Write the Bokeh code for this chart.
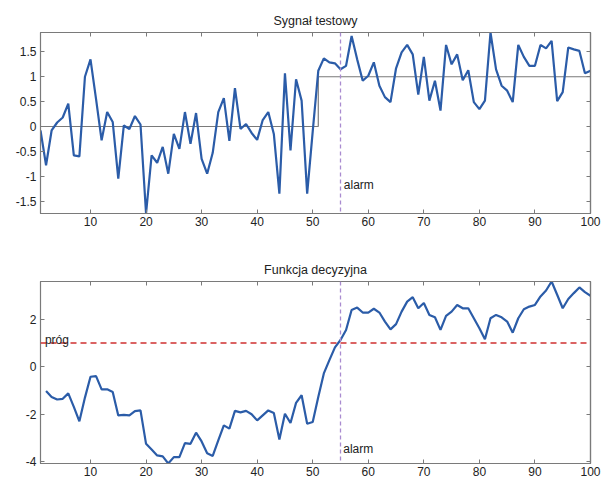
from bokeh.plotting import figure
from bokeh.layouts import column
from bokeh.models import (Range1d, FixedTicker, CustomJSTickFormatter, LinearAxis,
                          Span, Label)
from bokeh.embed import file_html
from bokeh.resources import INLINE

# ---- data ----
x_signal = list(range(1, 101))
signal = [-0.08, -0.78, -0.08, 0.08, 0.18, 0.46, -0.58, -0.60, 1.00, 1.35,
          0.55, -0.28, 0.29, 0.09, -1.05, 0.02, -0.05, 0.21, 0.04, -1.75,
          -0.58, -0.73, -0.41, -0.95, -0.15, -0.45, 0.29, -0.35, 0.27, -0.65,
          -0.95, -0.53, 0.29, 0.57, -0.29, 0.77, -0.05, 0.05, -0.13, -0.27,
          0.13, 0.29, -0.15, -1.35, 1.07, -0.48, 0.95, 0.52, -1.35, -0.10,
          1.12, 1.37, 1.29, 1.27, 1.15, 1.22, 1.82, 1.35, 0.92, 1.02,
          1.29, 0.82, 0.59, 0.49, 1.17, 1.49, 1.64, 1.45, 0.64, 1.40,
          0.52, 0.92, 0.32, 1.64, 1.25, 1.45, 0.93, 1.13, 0.49, 0.35,
          0.52, 1.89, 1.15, 0.82, 0.72, 0.49, 1.64, 1.40, 1.22, 1.22,
          1.64, 1.57, 1.72, 0.51, 0.69, 1.59, 1.55, 1.52, 1.07, 1.12]
mean_level = [0] * 50 + [1] * 50

x_decision = list(range(2, 101))
decision = [-1.02, -1.27, -1.38, -1.35, -1.12, -1.69, -2.30, -1.30, -0.42,
            -0.39, -0.95, -0.95, -1.06, -2.05, -2.03, -2.05, -1.87, -1.84, -3.25,
            -3.49, -3.74, -3.78, -4.08, -3.81, -3.81, -3.22, -3.25, -2.78, -3.15,
            -3.65, -3.76, -3.10, -2.47, -2.61, -1.86, -1.92, -1.86, -2.00, -2.26,
            -2.05, -1.84, -1.95, -3.07, -1.98, -2.37, -1.52, -1.20, -2.40, -2.33,
            -1.27, -0.28, 0.28, 0.82, 1.13, 1.55, 2.40, 2.50, 2.29, 2.29,
            2.45, 2.29, 1.91, 1.58, 1.80, 2.33, 2.75, 2.94, 2.47, 2.69,
            2.19, 2.09, 1.56, 2.15, 2.33, 2.61, 2.47, 2.47, 2.05, 1.63,
            1.16, 2.05, 2.19, 2.09, 1.91, 1.44, 2.05, 2.43, 2.54, 2.61,
            2.97, 3.22, 3.60, 3.04, 2.47, 2.86, 3.11, 3.35, 3.15, 3.00]

threshold = 1.0
alarm_index = 55
x_ticks = [10, 20, 30, 40, 50, 60, 70, 80, 90, 100]
y_ticks_top = [-1.5, -1, -0.5, 0, 0.5, 1, 1.5]
y_ticks_bottom = [-4, -2, 0, 2]

FONT = "Liberation Sans"
BLUE = "#2b5ca8"
GRAY = "#7a7a7a"
RED = "#d03030"
VIOLET = "#a98bd0"

fmt = CustomJSTickFormatter(code="return tick.toString();")
empty_fmt = CustomJSTickFormatter(code="return '';")


def style(p, yticks):
    p.title.align = "center"
    p.title.text_font = FONT
    p.title.text_font_size = "12.5px"
    p.title.text_font_style = "normal"
    p.title.text_color = "#222222"
    p.grid.visible = False
    p.outline_line_color = GRAY
    p.outline_line_width = 1.2
    p.background_fill_color = "white"
    p.border_fill_color = "white"
    for ax in p.xaxis + p.yaxis:
        ax.axis_line_color = GRAY
        ax.major_tick_line_color = GRAY
        ax.minor_tick_line_color = None
        ax.major_tick_in = 4
        ax.major_tick_out = 0
        ax.major_label_text_font = FONT
        ax.major_label_text_font_size = "12px"
        ax.major_label_text_color = "#222222"
        ax.formatter = fmt
    p.xaxis.ticker = FixedTicker(ticks=x_ticks)
    p.yaxis.ticker = FixedTicker(ticks=yticks)
    p.xaxis.major_label_standoff = 3
    p.yaxis.major_label_standoff = 4
    # mirrored ticks (top/right) like a boxed axes
    top = LinearAxis(ticker=FixedTicker(ticks=x_ticks), formatter=empty_fmt)
    right = LinearAxis(ticker=FixedTicker(ticks=yticks), formatter=empty_fmt)
    for ax in (top, right):
        ax.axis_line_color = GRAY
        ax.axis_line_width = 1.2
        ax.major_tick_line_color = GRAY
        ax.major_tick_line_width = 1
        ax.minor_tick_line_color = None
        ax.major_tick_in = 4
        ax.major_tick_out = 0
        ax.major_label_standoff = 0
    p.add_layout(top, "above")
    p.add_layout(right, "right")


# ---- top: test signal ----
p1 = figure(width=606, height=240, title="Sygnał testowy",
            x_range=Range1d(1, 100), y_range=Range1d(min(signal), max(signal)),
            output_backend="svg", toolbar_location=None,
            min_border_left=40, min_border_right=16,
            min_border_top=32, min_border_bottom=27)
style(p1, y_ticks_top)
p1.step(x_signal, mean_level, mode="after", line_color=GRAY, line_width=1.2)
p1.line(x_signal, signal, line_color=BLUE, line_width=2.2)
p1.add_layout(Span(location=alarm_index, dimension="height", line_color=VIOLET,
                   line_width=1.3, line_dash="4 3"))
p1.add_layout(Label(x=alarm_index + 0.6, y=-1.18, text="alarm",
                    text_font=FONT, text_font_size="12px", text_color="#222222",
                    text_baseline="alphabetic"))

# ---- bottom: decision function ----
p2 = figure(width=606, height=240, title="Funkcja decyzyjna",
            x_range=Range1d(1, 100), y_range=Range1d(min(decision), max(decision)),
            output_backend="svg", toolbar_location=None,
            min_border_left=40, min_border_right=16,
            min_border_top=41, min_border_bottom=17)
style(p2, y_ticks_bottom)
p2.add_layout(Span(location=threshold, dimension="width", line_color=RED,
                   line_width=1.5, line_dash="6 4"))
p2.line(x_decision, decision, line_color=BLUE, line_width=2.2)
p2.add_layout(Span(location=alarm_index, dimension="height", line_color=VIOLET,
                   line_width=1.3, line_dash="4 3"))
p2.add_layout(Label(x=1.8, y=1.15, text="próg",
                    text_font=FONT, text_font_size="12px", text_color="#222222",
                    text_baseline="alphabetic"))
p2.add_layout(Label(x=alarm_index + 0.5, y=-3.46, text="alarm",
                    text_font=FONT, text_font_size="12px", text_color="#222222",
                    text_baseline="alphabetic"))

layout = column(p1, p2, spacing=0)
open("out.html", "w").write(file_html(layout, INLINE))
